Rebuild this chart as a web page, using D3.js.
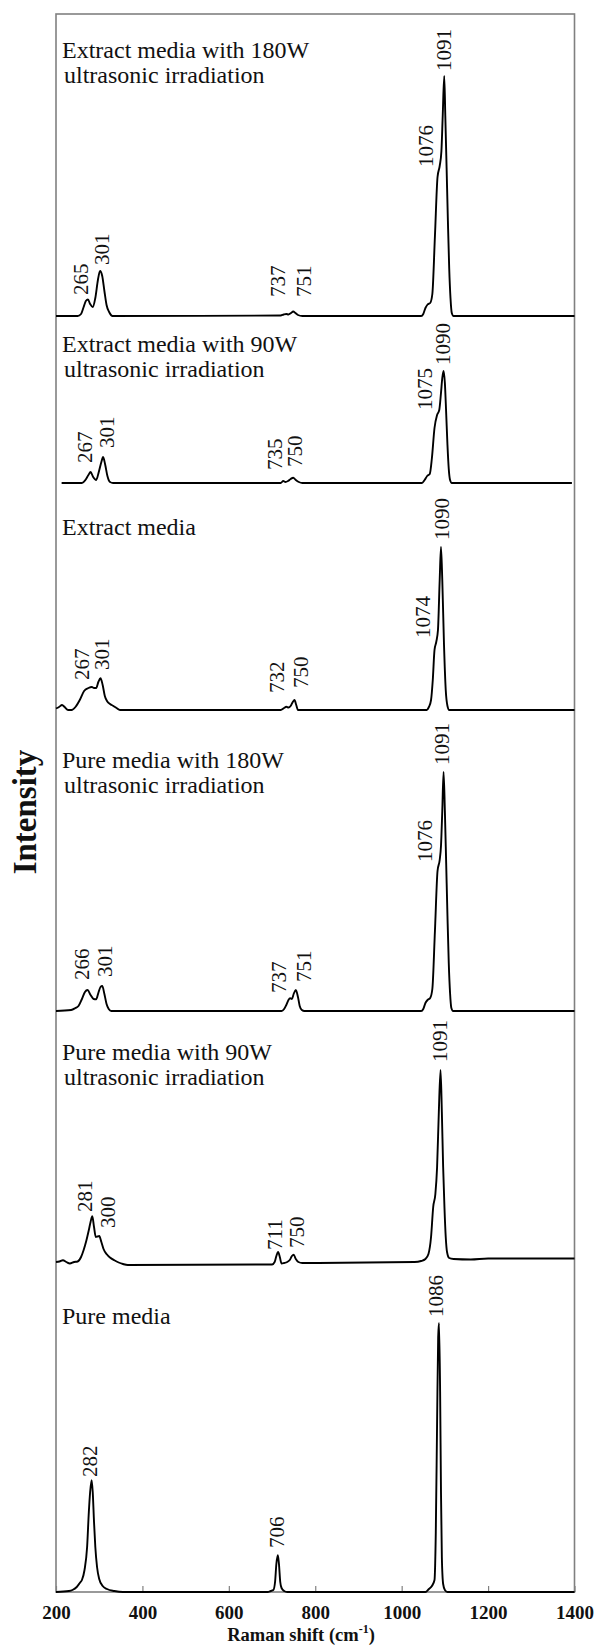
<!DOCTYPE html>
<html>
<head>
<meta charset="utf-8">
<script src="https://cdn.jsdelivr.net/npm/d3@7/dist/d3.min.js"></script>
<style>
  html, body { margin: 0; padding: 0; background: #fff; }
  svg { display: block; }
</style>
</head>
<body>
<svg id="chart" width="595" height="1646"></svg>
<script>
// ---------------- DATA ----------------
const xTicks = [200, 400, 600, 800, 1000, 1200, 1400];

const panelTitles = [
  ["Extract media with 180W", "ultrasonic irradiation"],
  ["Extract media with 90W", "ultrasonic irradiation"],
  ["Extract media"],
  ["Pure media with 180W", "ultrasonic irradiation"],
  ["Pure media with 90W", "ultrasonic irradiation"],
  ["Pure media"]
];

// vertical offset of each stacked spectrum (intensity, a.u.)
const panelOffsets = [1276, 1109, 882, 581, 330, 0];

// [Raman shift (cm-1), intensity above own baseline (a.u.)]
const specExtract180 = [
  [200,0],[250,0],[258,2],[264,9],[269,15],[274,16.5],[279,12],[285,9],[291,18],[297,36],[302,45],[307,40],[312,25],[317,11],[323,4],[331,0],
  [720,0.5],[727,1.5],[733,2],[738,1.5],[744,3],[749,4.5],[754,3],[760,1],[770,0],
  [1045,0],[1050,2],[1055,8],[1060,11.5],[1066,13],[1071,22],[1077,80],[1083,139],[1088,150],[1092,165],[1095,200],[1098.5,240],[1101,200],[1104,148],[1107,95],[1110,48],[1113,18],[1116,3],[1120,0],
  [1400,0]
];
const specExtract90 = [
  [213,0],[260,0],[268,3],[275,8],[280,11],[286,6],[293,3],[299,11],[305,21],[309,26],[314,18],[319,7],[325,1],[332,0],
  [720,0],[726,2],[731,1],[737,2],[743,4],[749,5.3],[755,3],[762,1],[770,0],
  [1047,0],[1053,3],[1059,7],[1065,9],[1070,25],[1076,55],[1082,68],[1087,73],[1091,90],[1094,105],[1097,112],[1100,100],[1103,70],[1106,38],[1109,14],[1112,3],[1116,0],
  [1394,0]
];
const specExtract = [
  [200,1.5],[207,3],[214,5],[220,3],[228,0],[236,0],[245,3],[255,10],[265,19],[275,22],[283,23],[288,22],[293,22],[298,28],[303,31.7],[308,25],[313,14],[318,9],[325,6],[333,4],[340,2],[348,0],
  [720,0],[728,2],[733,3.3],[738,2.5],[743,4],[748,8],[752,10],[756,5],[760,0],
  [1058,0],[1063,3],[1068,10],[1072,30],[1076,60],[1080,68],[1084,80],[1088,130],[1091,163],[1094,130],[1098,65],[1102,20],[1106,4],[1110,0],
  [1400,0]
];
const specPure180 = [
  [200,0],[235,1],[245,3],[252,5],[260,12],[267,19],[273,21],[280,16],[287,12],[293,11.7],[298,18],[303,24],[307,25],[312,17],[317,7],[322,2],[328,0],
  [722,0],[728,2],[733,6],[738,11],[742,12.7],[746,12],[750,17],[755,21],[760,14],[764,5],[769,1],[775,0],
  [1045,0],[1050,2],[1055,8],[1060,11],[1066,13],[1071,22],[1077,80],[1083,140],[1088,151],[1091,165],[1094,200],[1097,239],[1100,200],[1103,148],[1106,95],[1109,48],[1112,18],[1115,3],[1119,0],
  [1400,0]
];
const specPure90 = [
  [200,0],[208,0.5],[216,1.7],[224,0],[232,-1.5],[242,0],[250,0.5],[258,5],[264,12],[270,21],[276,32],[280,40],[284,45.7],[288,35],[292,25],[296,25.5],[300,26],[305,20],[310,13],[317,8],[325,4.5],[335,1.7],[345,-0.5],[355,-2],[366,-3],
  [700,-2.5],[706,0],[710,6],[714,10],[718,5],[722,-1.5],[728,-1],[735,0],[741,2],[746,6],[750,7.3],[755,3],[761,0],[770,-1],
  [1030,0],[1045,1],[1055,3],[1062,8],[1068,25],[1073,55],[1078,68],[1082,95],[1086,150],[1090,192],[1093,150],[1096,95],[1099,55],[1102,25],[1105,10],[1110,4],[1120,3],[1160,2.5],[1200,3.5],
  [1400,3.5]
];
const specPure = [
  [200,0],[230,1],[238,2],[248,5],[255,9],[260,12],[266,22],[272,45],[276,80],[279,100],[282.5,111.7],[285,100],[288,70],[291,45],[295,25],[300,13],[308,6],[318,3],[335,1],[355,0],
  [690,0],[697,1],[703,2],[707,10],[710,28],[713.5,36.7],[716,28],[719,10],[722,4],[728,1],[735,0],
  [1055,0],[1063,3],[1070,6],[1076,12],[1079,60],[1082,170],[1084.5,255],[1086.5,269],[1089,200],[1091,100],[1093,35],[1096,8],[1100,2],[1106,0],
  [1400,0]
];

// peak annotations: [label, Raman shift of label, intensity of label foot]
const peaksExtract180 = [["265",257,21],["301",305,51],["737",714,19],["751",774,19],["1076",1057,149],["1091",1097,245]];
const peaksExtract90  = [["267",266,20],["301",318,35],["735",706,13],["750",752,16],["1075",1053,73],["1090",1095,118]];
const peaksExtract    = [["267",260,30],["301",307,40],["732",712,17],["750",767,22],["1074",1050,72],["1090",1093,170]];
const peaksPure180    = [["266",260,31],["301",313,34],["737",716,18],["751",774,29],["1076",1053,149],["1091",1093,246]];
const peaksPure90     = [["281",267,50],["300",319,34],["711",707,12],["750",757,14],["1091",1088,200]];
const peaksPure       = [["282",278,115],["706",712,44],["1086",1079,275]];

const spectra = [specExtract180, specExtract90, specExtract, specPure180, specPure90, specPure];
const peakSets = [peaksExtract180, peaksExtract90, peaksExtract, peaksPure180, peaksPure90, peaksPure];
// title baseline level for each panel (intensity, a.u.)
const titleLevels = [1534, 1240, 1057, 824, 532, 268];

// ---------------- LAYOUT ----------------
const frame = { left: 56, right: 574.5, top: 14, bottom: 1592 };
const serif = "'Liberation Serif', 'Times New Roman', Times, serif";

const svg = d3.select("#chart");
const x = d3.scaleLinear().domain([200, 1400]).range([frame.left, frame.right]);
const y = d3.scaleLinear().domain([0, frame.bottom - frame.top]).range([frame.bottom, frame.top]);

// frame
svg.append("rect")
  .attr("x", frame.left).attr("y", frame.top)
  .attr("width", frame.right - frame.left).attr("height", frame.bottom - frame.top)
  .attr("fill", "none").attr("stroke", "#808080").attr("stroke-width", 1.6);

// x axis (inward ticks)
const xAxis = d3.axisBottom(x).tickValues(xTicks).tickSizeInner(-6).tickSizeOuter(0).tickPadding(14)
  .tickFormat(d3.format("d"));
const gx = svg.append("g").attr("transform", `translate(0,${frame.bottom})`).call(xAxis);
gx.select(".domain").remove();
gx.selectAll(".tick line").attr("stroke", "#808080").attr("stroke-width", 1.2);
gx.selectAll(".tick text")
  .attr("font-family", serif).attr("font-size", 19).attr("font-weight", "bold").attr("fill", "#111");

// axis titles
const xt = svg.append("text")
  .attr("x", 301).attr("y", 1641)
  .attr("text-anchor", "middle")
  .attr("font-family", serif).attr("font-size", 18.5).attr("font-weight", "bold").attr("fill", "#111");
xt.append("tspan").text("Raman shift (cm");
xt.append("tspan").attr("font-size", 12).attr("dy", -8).text("-1");
xt.append("tspan").attr("dy", 8).text(")");

svg.append("text")
  .attr("transform", "translate(36,812) rotate(-90)")
  .attr("text-anchor", "middle")
  .attr("font-family", serif).attr("font-size", 33).attr("font-weight", "bold").attr("fill", "#111")
  .text("Intensity");

// spectra
const line = d3.line()
  .x(d => x(d[0]))
  .y(d => y(d[1] + d[2]))
  .curve(d3.curveMonotoneX);

spectra.forEach((spec, i) => {
  const off = panelOffsets[i];
  svg.append("path")
    .datum(spec.map(p => [p[0], p[1], off]))
    .attr("d", line)
    .attr("fill", "none")
    .attr("stroke", "#000")
    .attr("stroke-width", 1.9)
    .attr("stroke-linejoin", "round");

  // peak labels
  peakSets[i].forEach(pk => {
    svg.append("text")
      .attr("transform", `translate(${x(pk[1])},${y(pk[2] + off)}) rotate(-90)`)
      .attr("dy", "0.34em")
      .attr("font-family", serif).attr("font-size", 21).attr("fill", "#111")
      .text(pk[0]);
  });

  // panel titles
  panelTitles[i].forEach((t, j) => {
    svg.append("text")
      .attr("x", frame.left + 6 + (j ? 2 : 0))
      .attr("y", y(titleLevels[i]) + j * 25)
      .attr("font-family", serif).attr("font-size", 24).attr("fill", "#111")
      .text(t);
  });
});
</script>
</body>
</html>
